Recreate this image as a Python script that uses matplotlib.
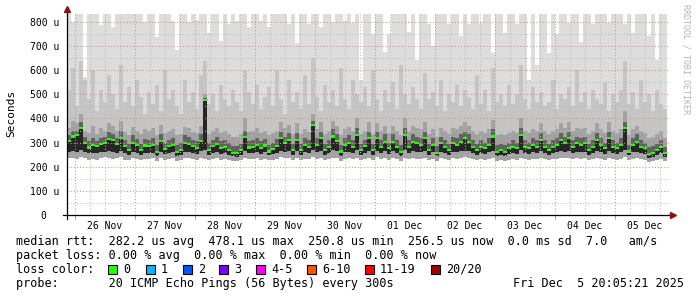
import numpy as np
import pandas as pd
import matplotlib
matplotlib.use("Agg")
import matplotlib.pyplot as plt
import matplotlib.dates as mdates
from matplotlib.patches import Rectangle

# ---------------- data ----------------
start_time = "2025-11-25 20:48"
step_minutes = 96
end_time = "2025-12-05 21:36"

median = [305, 325, 330, 360, 300, 280, 290, 285, 295, 300, 315, 310, 295, 320, 285, 270, 300, 290, 270, 288, 285, 290, 262, 305, 275,
          285, 290, 262, 270, 297, 295, 285, 278, 305, 478, 270, 285, 295, 278, 283, 270, 258, 256, 268, 322, 280, 283, 290, 278, 288,
          263, 275, 285, 318, 297, 311, 269, 311, 269, 290, 283, 373, 290, 318, 269, 283, 325, 305, 263, 290, 300, 283, 332, 269, 285,
          318, 269, 318, 283, 304, 276, 304, 283, 262, 332, 283, 304, 297, 290, 318, 269, 290, 258, 297, 283, 269, 297, 290, 304, 318,
          304, 283, 269, 283, 276, 290, 325, 262, 269, 262, 276, 283, 276, 332, 283, 276, 290, 283, 311, 283, 269, 283, 290, 311, 297,
          318, 283, 297, 290, 297, 269, 283, 311, 290, 276, 318, 283, 276, 290, 359, 263, 290, 304, 283, 276, 252, 256, 269, 283, 256]

smoke_max = [833, 800, 833, 833, 572, 833, 833, 833, 788, 833,
             833, 780, 833, 833, 833, 833, 833, 833, 833, 800,
             833, 833, 738, 833, 833, 833, 805, 684, 833, 833,
             800, 833, 810, 833, 833, 755, 833, 833, 720, 833,
             790, 833, 805, 833, 833, 780, 833, 833, 805, 833,
             780, 833, 833, 833, 833, 790, 833, 713, 833, 833,
             790, 833, 833, 780, 833, 833, 800, 833, 833, 805,
             833, 795, 833, 560, 833, 833, 750, 833, 833, 676,
             750, 833, 833, 833, 833, 760, 833, 643, 833, 833,
             790, 700, 833, 833, 833, 790, 833, 833, 740, 833,
             790, 833, 833, 795, 833, 833, 672, 833, 833, 755,
             833, 833, 790, 833, 833, 560, 833, 620, 833, 833,
             672, 833, 750, 833, 833, 795, 833, 833, 715, 833,
             833, 790, 833, 833, 833, 795, 833, 833, 833, 790,
             833, 755, 833, 833, 833, 740, 833, 643, 833, 833]

smoke_upper = [520, 610, 450, 640, 560, 480, 600, 430, 520, 470,
               580, 500, 440, 620, 470, 530, 450, 560, 490, 420,
               510, 460, 540, 430, 600, 480, 520, 450, 420, 560,
               470, 510, 440, 580, 640, 460, 500, 430, 540, 480,
               450, 520, 470, 430, 600, 510, 460, 540, 440, 490,
               530, 450, 600, 480, 420, 560, 470, 510, 440, 580,
               460, 650, 490, 430, 540, 470, 520, 450, 610, 480,
               440, 560, 500, 470, 530, 450, 600, 480, 430, 520,
               470, 550, 440, 620, 500, 460, 530, 480, 440, 590,
               480, 510, 450, 560, 430, 500, 470, 540, 450, 520,
               490, 440, 580, 460, 520, 430, 610, 470, 500, 450,
               540, 460, 500, 620, 480, 440, 530, 470, 510, 450,
               470, 560, 440, 500, 480, 530, 450, 600, 470, 510,
               440, 520, 480, 460, 550, 430, 500, 470, 520, 640,
               460, 510, 440, 560, 470, 500, 430, 520, 460, 440]

smoke_core_top = [360, 390, 380, 420, 350, 340, 370, 335, 360, 350,
                  380, 370, 350, 390, 345, 330, 365, 350, 335, 355,
                  350, 360, 330, 375, 340, 350, 355, 330, 335, 365,
                  360, 345, 340, 370, 500, 335, 350, 360, 340, 350,
                  335, 325, 325, 335, 400, 345, 350, 360, 340, 350,
                  330, 340, 350, 385, 360, 375, 335, 380, 335, 355,
                  345, 420, 355, 385, 335, 350, 390, 370, 330, 355,
                  365, 350, 400, 335, 350, 385, 335, 380, 350, 370,
                  340, 370, 350, 330, 400, 350, 370, 360, 355, 385,
                  335, 355, 325, 360, 350, 335, 360, 355, 370, 385,
                  370, 350, 335, 350, 340, 355, 395, 330, 335, 330,
                  340, 350, 340, 400, 350, 340, 355, 350, 380, 350,
                  335, 350, 355, 380, 360, 385, 350, 360, 355, 360,
                  335, 350, 380, 355, 340, 385, 350, 340, 355, 430,
                  330, 355, 370, 350, 340, 320, 325, 335, 350, 320]

smoke_dark_top = [330, 350, 350, 385, 325, 305, 320, 305, 320, 325,
                  345, 335, 320, 350, 310, 295, 330, 315, 295, 315,
                  310, 320, 290, 335, 300, 310, 320, 290, 300, 330,
                  325, 310, 305, 335, 485, 300, 310, 325, 305, 310,
                  300, 285, 285, 295, 350, 305, 310, 320, 305, 315,
                  290, 300, 315, 345, 325, 340, 295, 340, 295, 320,
                  310, 390, 320, 345, 295, 310, 355, 335, 290, 320,
                  330, 310, 360, 295, 310, 345, 295, 345, 310, 335,
                  300, 335, 310, 290, 360, 310, 335, 325, 320, 345,
                  295, 320, 285, 325, 310, 295, 325, 320, 335, 345,
                  335, 310, 295, 310, 300, 320, 355, 290, 295, 290,
                  300, 310, 300, 360, 310, 300, 320, 310, 340, 310,
                  295, 310, 320, 340, 325, 345, 310, 325, 320, 325,
                  295, 310, 340, 320, 300, 345, 310, 300, 320, 385,
                  290, 320, 335, 310, 300, 280, 285, 295, 310, 280]

smoke_min = [238, 235, 232, 240, 236, 230, 234, 228, 236, 240,
             238, 232, 235, 240, 230, 226, 236, 232, 228, 234,
             233, 236, 224, 238, 230, 232, 236, 222, 228, 236,
             236, 232, 230, 238, 234, 226, 232, 236, 230, 233,
             228, 224, 222, 228, 238, 232, 234, 236, 230, 234,
             226, 230, 234, 240, 236, 238, 228, 238, 226, 234,
             232, 240, 234, 238, 226, 232, 238, 236, 224, 234,
             236, 232, 238, 228, 232, 238, 226, 240, 232, 236,
             230, 238, 232, 222, 238, 232, 236, 234, 232, 238,
             228, 234, 222, 236, 232, 228, 236, 234, 236, 240,
             238, 232, 228, 232, 230, 234, 238, 224, 228, 224,
             230, 232, 230, 238, 232, 230, 234, 232, 238, 232,
             228, 232, 234, 238, 236, 238, 232, 236, 234, 236,
             228, 232, 238, 234, 230, 238, 232, 230, 234, 240,
             226, 234, 236, 232, 230, 218, 222, 228, 232, 222]

smoke_core_bottom = [262, 265, 262, 268, 262, 255, 258, 256, 260, 262,
                     265, 262, 258, 266, 256, 250, 262, 258, 250, 258,
                     256, 258, 246, 262, 254, 256, 260, 246, 250, 262,
                     262, 256, 254, 264, 270, 250, 256, 262, 254, 258,
                     250, 244, 242, 250, 266, 256, 258, 262, 254, 260,
                     248, 254, 258, 266, 262, 264, 250, 264, 250, 260,
                     256, 268, 260, 266, 250, 256, 268, 264, 246, 260,
                     262, 256, 268, 250, 256, 266, 250, 266, 256, 264,
                     254, 264, 256, 246, 268, 256, 264, 262, 260, 266,
                     250, 260, 244, 262, 256, 250, 262, 260, 264, 266,
                     264, 256, 250, 256, 254, 260, 266, 246, 250, 246,
                     254, 256, 254, 268, 256, 254, 260, 256, 264, 256,
                     250, 256, 260, 266, 262, 266, 256, 262, 260, 262,
                     250, 256, 264, 260, 254, 266, 256, 254, 260, 270,
                     248, 260, 262, 256, 254, 238, 240, 250, 256, 240]

y_ticks = [0, 100, 200, 300, 400, 500, 600, 700, 800]
y_tick_labels = ["0  ", "100 u", "200 u", "300 u", "400 u", "500 u", "600 u", "700 u", "800 u"]
day_labels = ["26 Nov", "27 Nov", "28 Nov", "29 Nov", "30 Nov",
              "01 Dec", "02 Dec", "03 Dec", "04 Dec", "05 Dec"]
loss_labels = ["0", "1", "2", "3", "4-5", "6-10", "11-19", "20/20"]
loss_colors = ["#26ff00", "#00b8ff", "#0059ff", "#7e00ff", "#ff00ff", "#ff5500", "#ff0000", "#a00000"]

legend_rtt = "median rtt:  282.2 us avg  478.1 us max  250.8 us min  256.5 us now  0.0 ms sd  7.0   am/s"
legend_loss = "packet loss: 0.00 % avg  0.00 % max  0.00 % min  0.00 % now"
legend_probe = "probe:       20 ICMP Echo Pings (56 Bytes) every 300s"
stamp = "Fri Dec  5 20:05:21 2025"

# ---------------- figure ----------------
W, H = 697, 297
fig = plt.figure(figsize=(W / 100, H / 100), dpi=100)
fig.patch.set_facecolor("white")

def fx(px):
    return px / W

def fy(py):
    return 1 - py / H

ax = fig.add_axes([fx(67), fy(215), fx(669) - fx(67), fy(14) - fy(215)])
ax.set_facecolor("white")

times = pd.date_range(start_time, periods=len(median), freq=f"{step_minutes}min")
x = mdates.date2num(times.to_pydatetime())
w = step_minutes / 1440.0

med = np.array(median, float)
smax = np.array(smoke_max, float)
sup = np.array(smoke_upper, float)
ctop = np.array(smoke_core_top, float)
dtop = np.array(smoke_dark_top, float)
smin = np.array(smoke_min, float)
cbot = np.array(smoke_core_bottom, float)

kw = dict(width=w, align="edge", linewidth=0, antialiased=False)
ax.bar(x, smax - smin, bottom=smin, color="#dddddd", zorder=1, **kw)
ax.bar(x, sup - smin, bottom=smin, color="#c5c5c5", zorder=1.1, **kw)
ax.bar(x, ctop - smin, bottom=smin, color="#a2a2a2", zorder=1.2, **kw)
ax.bar(x, dtop - cbot, bottom=cbot, color="#626262", zorder=1.3, **kw)
ax.bar(x, med - cbot, bottom=cbot, color="#262626", zorder=1.4, **kw)
ax.bar(x, np.full(len(med), 9.0), bottom=med - 4.5, color=loss_colors[0], zorder=1.5, **kw)

x0 = mdates.date2num(pd.Timestamp(start_time).to_pydatetime())
x1 = mdates.date2num(pd.Timestamp(end_time).to_pydatetime())
ax.set_xlim(x0, x1)
ax.set_ylim(0, 833)

# grid
dots = (0, (1, 2))
minor_v = pd.date_range("2025-11-26 00:00", "2025-12-05 18:00", freq="6h")
for t in minor_v:
    xv = mdates.date2num(t.to_pydatetime())
    if t.hour == 0:
        ax.axvline(xv, color="#e08888", lw=0.75, ls=dots, zorder=3)
    else:
        ax.axvline(xv, color="#bcbcbc", lw=0.75, ls=dots, zorder=3)
for yv in range(50, 833, 50):
    if yv % 100 == 0:
        ax.axhline(yv, color="#e08888", lw=0.75, ls=dots, zorder=3)
    else:
        ax.axhline(yv, color="#bcbcbc", lw=0.75, ls=dots, zorder=3)

for s in ax.spines.values():
    s.set_visible(False)

mono = "DejaVu Sans Mono"
ax.set_yticks(y_ticks)
ax.set_yticklabels(y_tick_labels, family=mono, fontsize=7)
ax.tick_params(axis="y", length=0, pad=5.8)

mid = pd.date_range("2025-11-26 00:00", periods=10, freq="D")
ax.set_xticks(mdates.date2num(mid.to_pydatetime()))
ax.set_xticklabels([])
ax.tick_params(axis="x", which="major", length=3, width=0.8, color="#d09090", direction="out")
noon = pd.date_range("2025-11-26 12:00", periods=10, freq="D")
ax.set_xticks(mdates.date2num(noon.to_pydatetime()), minor=True)
ax.set_xticklabels(day_labels, minor=True, family=mono, fontsize=7)
ax.tick_params(axis="x", which="minor", length=0, pad=4.0)

# axes lines and arrows
ax.plot([0, 0], [-0.02, 1.02], transform=ax.transAxes, clip_on=False, color="black", lw=0.9, zorder=5)
ax.plot([-0.007, 1.0], [0, 0], transform=ax.transAxes, clip_on=False, color="black", lw=0.9, zorder=5)
ax.plot([0], [1.025], marker="^", ms=4, color="#8b1010", mec="#8b1010", transform=ax.transAxes, clip_on=False, zorder=6)
ax.plot([1.006], [0], marker=">", ms=4, color="#8b1010", mec="#8b1010", transform=ax.transAxes, clip_on=False, zorder=6)

# labels
fig.text(fx(11), fy(113), "Seconds", rotation=90, ha="center", va="center", family=mono, fontsize=8, color="black")
fig.text(fx(686), fy(4), "RRDTOOL / TOBI OETIKER", rotation=270, ha="center", va="top",
         family=mono, fontsize=6, color="#b4b4b4")

lfs = 8.5
fig.text(fx(16), fy(245), legend_rtt, ha="left", va="baseline", family=mono, fontsize=lfs)
fig.text(fx(16), fy(259), legend_loss, ha="left", va="baseline", family=mono, fontsize=lfs)
fig.text(fx(16), fy(273), "loss color:", ha="left", va="baseline", family=mono, fontsize=lfs)
fig.text(fx(16), fy(287), legend_probe, ha="left", va="baseline", family=mono, fontsize=lfs)
fig.text(fx(513), fy(287), stamp, ha="left", va="baseline", family=mono, fontsize=lfs)

box_x = [108, 146, 183, 219, 256, 307, 365, 431]
for bx, lab, col in zip(box_x, loss_labels, loss_colors):
    fig.patches.append(Rectangle((fx(bx), fy(274)), fx(9), 9 / H, transform=fig.transFigure,
                                 facecolor=col, edgecolor="black", linewidth=0.8))
    fig.text(fx(bx + 15), fy(273), lab, ha="left", va="baseline", family=mono, fontsize=lfs)

fig.savefig("out.png", dpi=100, facecolor="white")
